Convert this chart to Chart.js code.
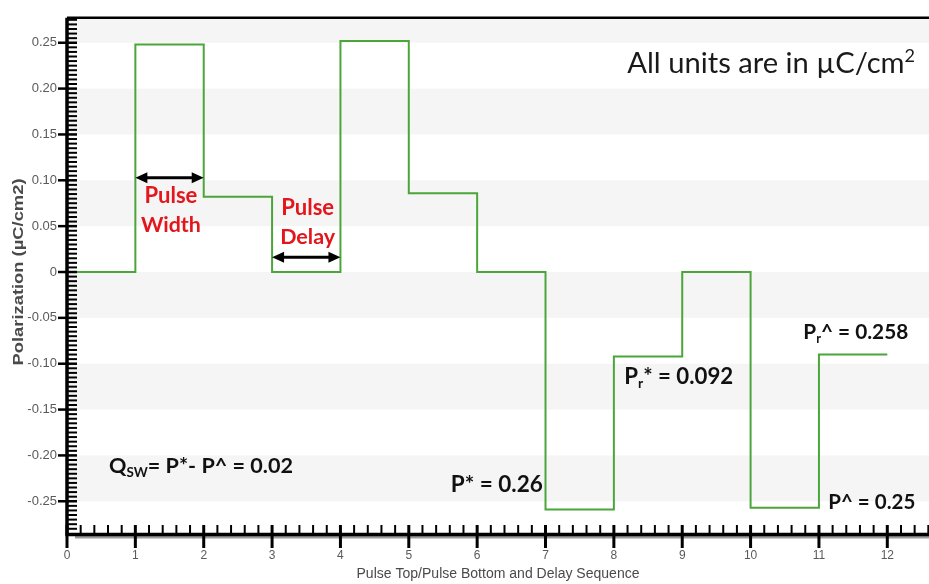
<!DOCTYPE html>
<html>
<head>
<meta charset="utf-8">
<script src="https://cdn.jsdelivr.net/npm/chart.js@4.4.0/dist/chart.umd.min.js"></script>
<style>
  html, body { margin: 0; padding: 0; background: #fff; }
  #wrap { width: 929px; height: 584px; }
</style>
</head>
<body>
<div id="wrap"><canvas id="pulseChart"></canvas></div>
<script>
// ---- data ----
// step boundaries along the pulse / delay sequence
const stepX = [0, 1, 2, 3, 4, 5, 6, 7, 8, 9, 10, 11, 12];
// polarization held from each boundary to the next one (µC/cm2)
const polarization = [0, 0.248, 0.082, 0, 0.252, 0.086, 0, -0.259, -0.092, 0, -0.257, -0.090, -0.090];

const xTicks = [0, 1, 2, 3, 4, 5, 6, 7, 8, 9, 10, 11, 12];
const xTickLabels = ['0', '1', '2', '3', '4', '5', '6', '7', '8', '9', '10', '11', '12'];
const yTicks = [-0.25, -0.20, -0.15, -0.10, -0.05, 0, 0.05, 0.10, 0.15, 0.20, 0.25];
const yTickLabels = ['-0.25', '-0.20', '-0.15', '-0.10', '-0.05', '0', '0.05', '0.10', '0.15', '0.20', '0.25'];

const xTitle = 'Pulse Top/Pulse Bottom and Delay Sequence';
const yTitle = 'Polarization (\u00b5C/cm2)';

// ---- look ----
const GREEN = '#4ba53a';
const RED = '#e3161c';
const TICK_FONT = "'Liberation Sans', Arial, sans-serif";
const NOTE_FONT = "Lato, 'Open Sans', sans-serif";

// text notes placed in data coordinates; width = measured width in the picture
const notes = [
    { parts: [['All units are in \u00b5C/cm', ''], ['2', 'sup']], x: 8.195, y: 0.2165, width: 288, weight: 400, color: '#1a1a1a', align: 'left' },
    { parts: [['Pulse', '']], x: 1.52, y: 0.0756, width: 53, weight: 700, color: RED, align: 'center' },
    { parts: [['Width', '']], x: 1.52, y: 0.0433, width: 60, weight: 700, color: RED, align: 'center' },
    { parts: [['Pulse', '']], x: 3.52, y: 0.0619, width: 53, weight: 700, color: RED, align: 'center' },
    { parts: [['Delay', '']], x: 3.52, y: 0.0304, width: 55, weight: 700, color: RED, align: 'center' },
    { parts: [['P* = 0.26', '']], x: 6.96, y: -0.2402, width: 92, weight: 700, color: '#111', align: 'right' },
    { parts: [['P', ''], ['r', 'sub'], ['* = 0.092', '']], x: 8.152, y: -0.1219, width: 109, weight: 700, color: '#111', align: 'left' },
    { parts: [['P', ''], ['r', 'sub'], ['^ = 0.258', '']], x: 10.771, y: -0.0728, width: 105, weight: 700, color: '#111', align: 'left' },
    { parts: [['P^ = 0.25', '']], x: 11.137, y: -0.2581, width: 87, weight: 700, color: '#111', align: 'left' },
    { parts: [['Q', ''], ['SW', 'sub'], ['= P*- P^ = 0.02', '']], x: 0.615, y: -0.2187, width: 184, weight: 700, color: '#111', align: 'left' }
];

// double arrows marking pulse width and pulse delay
const arrows = [
    { x1: 1, x2: 2, y: 0.1028 },
    { x1: 3, x2: 4, y: 0.0161 }
];

function richWidth(ctx, parts, size, weight) {
    let w = 0;
    parts.forEach(([t, k]) => {
        ctx.font = `${weight} ${k ? size * 0.62 : size}px ${NOTE_FONT}`;
        w += ctx.measureText(t).width;
    });
    return w;
}

function drawNote(ctx, n, xs, ys) {
    let size = 20;
    size *= n.width / richWidth(ctx, n.parts, size, n.weight);
    const w = richWidth(ctx, n.parts, size, n.weight);
    let x = xs.getPixelForValue(n.x);
    if (n.align === 'right') x -= w;
    if (n.align === 'center') x -= w / 2;
    const y = ys.getPixelForValue(n.y);
    ctx.fillStyle = n.color;
    ctx.textAlign = 'left';
    ctx.textBaseline = 'alphabetic';
    n.parts.forEach(([t, k]) => {
        ctx.font = `${n.weight} ${k ? size * 0.62 : size}px ${NOTE_FONT}`;
        const dy = k === 'sub' ? size * 0.2 : (k === 'sup' ? -size * 0.38 : 0);
        ctx.fillText(t, x, y + dy);
        x += ctx.measureText(t).width;
    });
}

function drawDoubleArrow(ctx, a, b, y) {
    const head = 12, half = 5.5;
    ctx.strokeStyle = '#000';
    ctx.fillStyle = '#000';
    ctx.lineWidth = 3;
    ctx.beginPath();
    ctx.moveTo(a + head - 2, y);
    ctx.lineTo(b - head + 2, y);
    ctx.stroke();
    ctx.beginPath();
    ctx.moveTo(a, y); ctx.lineTo(a + head, y - half); ctx.lineTo(a + head, y + half); ctx.closePath();
    ctx.moveTo(b, y); ctx.lineTo(b - head, y - half); ctx.lineTo(b - head, y + half); ctx.closePath();
    ctx.fill();
}

function drawStretched(ctx, text, cx, cy, font, targetW, rotate) {
    ctx.save();
    ctx.translate(cx, cy);
    if (rotate) ctx.rotate(-Math.PI / 2);
    ctx.font = font;
    const w = ctx.measureText(text).width;
    ctx.scale(targetW / w, 1);
    ctx.textAlign = 'center';
    ctx.textBaseline = 'middle';
    ctx.fillText(text, 0, 0);
    ctx.restore();
}

// alternating light bands, every 0.05
const bandPlugin = {
    id: 'bands',
    beforeDatasetsDraw(chart) {
        const { ctx, chartArea: ca, scales: { y } } = chart;
        ctx.save();
        ctx.fillStyle = '#f5f5f5';
        for (let k = -7; k <= 7; k++) {
            if (Math.abs(k % 2) !== 1) continue;
            const top = Math.max(ca.top, y.getPixelForValue((k + 1) * 0.05));
            const bot = Math.min(ca.bottom, y.getPixelForValue(k * 0.05));
            if (bot > top) ctx.fillRect(ca.left, top, ca.right - ca.left, bot - top);
        }
        ctx.restore();
    }
};

// axes, ticks, arrows, notes and titles
const decorPlugin = {
    id: 'decor',
    afterDatasetsDraw(chart) {
        const { ctx, chartArea: ca, scales: { x, y } } = chart;
        ctx.save();

        // shadow under x axis
        ctx.fillStyle = '#9b9b9b';
        ctx.fillRect(ca.left + 8, ca.bottom + 1.5, ca.right - ca.left - 8, 4);

        ctx.strokeStyle = '#000';
        // y minor / major ticks
        for (let k = Math.ceil(y.min / 0.005); k <= Math.floor(y.max / 0.005); k++) {
            const py = y.getPixelForValue(k * 0.005);
            const major = k % 10 === 0;
            ctx.lineWidth = major ? 2.5 : 2;
            ctx.beginPath();
            ctx.moveTo(major ? ca.left - 9 : ca.left, py);
            ctx.lineTo(ca.left + 10, py);
            ctx.stroke();
        }
        // x minor / major ticks
        for (let k = 0; k <= Math.floor(x.max / 0.2); k++) {
            const px = x.getPixelForValue(k * 0.2);
            const major = k % 5 === 0;
            ctx.lineWidth = major ? 3 : 2;
            ctx.beginPath();
            ctx.moveTo(px, ca.bottom - 8);
            ctx.lineTo(px, major ? ca.bottom + 15 : ca.bottom);
            ctx.stroke();
        }
        // axis lines and top frame
        ctx.lineWidth = 3.5;
        ctx.beginPath();
        ctx.moveTo(ca.left, ca.top);
        ctx.lineTo(ca.left, ca.bottom + 1.5);
        ctx.lineTo(ca.right, ca.bottom + 1.5);
        ctx.stroke();
        ctx.lineWidth = 2.5;
        ctx.beginPath();
        ctx.moveTo(ca.left, ca.top);
        ctx.lineTo(ca.right, ca.top);
        ctx.stroke();

        arrows.forEach(a => drawDoubleArrow(ctx, x.getPixelForValue(a.x1), x.getPixelForValue(a.x2), y.getPixelForValue(a.y)));
        notes.forEach(n => drawNote(ctx, n, x, y));

        // axis titles
        ctx.fillStyle = '#4a4a4a';
        drawStretched(ctx, xTitle, (ca.left + ca.right) / 2, 574, `14px ${TICK_FONT}`, 283, false);
        drawStretched(ctx, yTitle, 18.5, 272, `bold 15px ${TICK_FONT}`, 187, true);
        ctx.restore();
    }
};

const ctx = document.getElementById('pulseChart').getContext('2d');
new Chart(ctx, {
    type: 'line',
    data: {
        datasets: [{
            data: stepX.map((v, i) => ({ x: v, y: polarization[i] })),
            stepped: true,
            borderColor: GREEN,
            borderWidth: 2,
            pointRadius: 0,
            fill: false
        }]
    },
    options: {
        responsive: true,
        maintainAspectRatio: false,
        animation: false,
        layout: { padding: { top: 10.5, left: 0, right: 0, bottom: 0 } },
        plugins: { legend: { display: false }, tooltip: { enabled: false } },
        scales: {
            x: {
                type: 'linear',
                min: 0,
                max: 12.61,
                grid: { display: false, drawTicks: false },
                border: { display: false },
                afterBuildTicks: s => { s.ticks = xTicks.map(v => ({ value: v })); },
                afterFit: s => { s.height = 51; },
                ticks: {
                    autoSkip: false,
                    maxRotation: 0,
                    padding: 15,
                    color: '#5a5a5a',
                    font: { family: TICK_FONT, size: 12 },
                    callback: (v, i) => xTickLabels[i]
                }
            },
            y: {
                type: 'linear',
                min: -0.2846,
                max: 0.2772,
                grid: { display: false, drawTicks: false },
                border: { display: false },
                afterBuildTicks: s => { s.ticks = yTicks.map(v => ({ value: v })); },
                afterFit: s => { s.width = 67; },
                ticks: {
                    autoSkip: false,
                    padding: 10,
                    color: '#5a5a5a',
                    font: { family: TICK_FONT, size: 13 },
                    callback: (v, i) => yTickLabels[i]
                }
            }
        }
    },
    plugins: [bandPlugin, decorPlugin]
});
</script>
</body>
</html>
